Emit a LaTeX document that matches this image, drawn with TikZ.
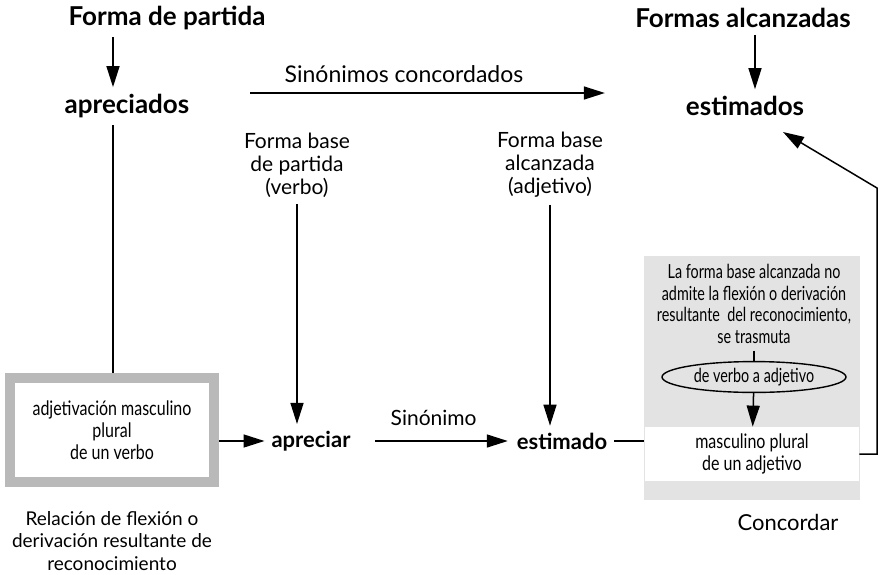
\documentclass[tikz,border=0pt]{standalone}
\usepackage{fontspec}
\setmainfont{Lato}
\newfontfamily\narrowfont[FakeStretch=0.8]{Lato}
\newfontfamily\panelfont[FakeStretch=0.74]{Lato}
\usetikzlibrary{shapes.geometric, arrows.meta, positioning}
\tikzset{
    title/.style={font=\bfseries\fontsize{13}{15}\selectfont},
    term/.style={font=\bfseries\fontsize{11}{13}\selectfont},
    note/.style={align=center, font=\fontsize{10.5}{11.5}\selectfont},
    boxtext/.style={align=center, font=\narrowfont\fontsize{10}{11}\selectfont},
    paneltext/.style={align=center, font=\panelfont\fontsize{9.7}{10.8}\selectfont},
    framebox/.style={rectangle, draw=gray!55, line width=5pt, fill=white, minimum width=102pt, minimum height=52pt},
    panel/.style={rectangle, fill=gray!22, minimum width=108pt, minimum height=122pt},
    whitebox/.style={rectangle, fill=white, minimum width=107pt, minimum height=27pt},
    oval/.style={ellipse, draw, line width=0.7pt, minimum width=92pt, minimum height=15pt, inner sep=1pt},
    arrow/.style={-{Triangle[length=10.5pt,width=6.5pt]}, line width=0.75pt},
    link/.style={line width=0.75pt}
}

\begin{document}
\begin{tikzpicture}[x=0.5pt, y=-0.5pt]
    \useasboundingbox (0,0) rectangle (879,574);
    % titles
    \node (partida) [title] at (167,18) {Forma de partida};
    \node (alcanz) [title] at (743,18) {Formas alcanzadas};
    \node (apreciados) [title] at (127,106) {apreciados};
    \node (estimados) [title] at (745,106) {estimados};
    \node (concord) [note, font=\fontsize{11.5}{14}\selectfont] at (404,74) {Sinónimos concordados};
    \coordinate (colL) at (113,0);
    \coordinate (colR) at (755,0);

    \draw[arrow] (partida.south -| colL) -- (apreciados.north -| colL);
    \draw[arrow] (alcanz.south -| colR) -- (estimados.north -| colR);
    \draw[arrow, shorten <=27pt, shorten >=37pt] (apreciados.east |- 0,93) -- (estimados.west |- 0,93);

    % base forms
    \node (basep) [note] at (297,165) {Forma base\\de partida\\(verbo)};
    \node (basea) [note] at (550,165) {Forma base\\alcanzada\\(adjetivo)};
    \node (apreciar) [term] at (311,441) {apreciar};
    \node (estimado) [term] at (562,441) {estimado};
    \draw[arrow] (basep.south) -- (basep.south |- apreciar.north);
    \draw[arrow] (basea.south) -- (basea.south |- estimado.north);
    \draw[arrow, shorten <=9pt, shorten >=1pt] (apreciar) -- node[above=4pt, note] {Sinónimo} (estimado);

    % left box
    \node (adj) [framebox, boxtext] at (112,430) {adjetivación masculino\\plural\\de un verbo};
    \node (relac) [note, font=\fontsize{9.5}{11.2}\selectfont] at (112,541) {Relación de flexión o\\derivación resultante de\\reconocimiento};
    \draw[link] (apreciados.south -| colL) -- (adj.north -| colL);
    \draw[arrow] (adj.east |- apreciar) -- (apreciar.west);

    % right panel
    \node (panel) [panel] at (752,378) {};
    \node (mut) [paneltext] at (754,304) {La forma base alcanzada no\\admite la flexión o derivación\\resultante\ \ del reconocimiento,\\se trasmuta};
    \node (verbadj) [oval, paneltext] at (754,377) {de verbo a adjetivo};
    \node (mascpl) [whitebox, boxtext] at (752,454) {masculino plural\\de un adjetivo};
    \node (concordar) [note, font=\fontsize{11}{13}\selectfont] at (788,522) {Concordar};
    \draw[link] (mut) -- (verbadj);
    \draw[arrow] (verbadj) -- (mascpl);
    \draw[link] (estimado) -- (estimado -| panel.west);

    \coordinate (turn) at (877,188);
    \coordinate (hit) at (783,132);
    \draw[arrow] (mascpl.east) -| (turn) -- (hit);
\end{tikzpicture}
\end{document}
